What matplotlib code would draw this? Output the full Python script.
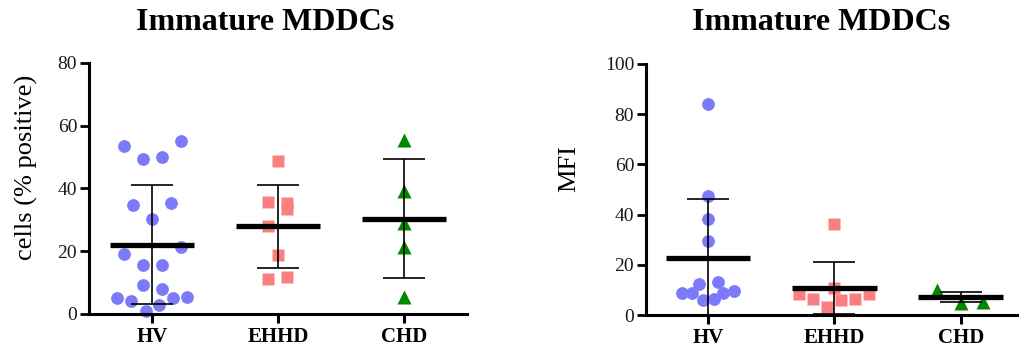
import matplotlib
matplotlib.use("Agg")
import matplotlib.pyplot as plt
import numpy as np

plt.rcParams['font.family'] = ['Liberation Serif', 'DejaVu Serif']

groups = ["HV", "EHHD", "CHD"]
title = "Immature MDDCs"

# --- left panel: cells (% positive)
hv_cells = [53.4, 49.4, 50.1, 55.2, 34.7, 35.4, 30.1, 19.0, 21.2, 15.5, 15.5,
            9.3, 8.0, 5.0, 4.1, 5.0, 5.3, 3.0, 0.8]
ehhd_cells = [48.6, 35.6, 35.2, 33.3, 27.9, 18.7, 11.0, 11.9]
chd_cells = [55.4, 39.2, 29.1, 21.4, 5.3]
cells_mean = [22.1, 27.9, 30.3]
cells_sd = [19.0, 13.1, 18.9]

# --- right panel: MFI
hv_mfi = [84.1, 47.4, 38.2, 29.5, 12.2, 13.1, 8.9, 8.6, 8.9, 9.6, 6.0, 6.5]
ehhd_mfi = [36.3, 10.8, 8.2, 6.3, 3.2, 6.0, 6.3, 8.2]
chd_mfi = [10.0, 4.9, 5.3]
mfi_mean = [22.8, 10.8, 7.2]
mfi_sd = [23.4, 10.4, 1.9]

# horizontal scatter offsets (category units), GraphPad-style spread
hv_cells_dx = [-0.225, -0.071, 0.077, 0.230, -0.148, 0.153, 0.0, -0.225, 0.230,
               -0.071, 0.077, -0.071, 0.077, -0.275, -0.165, 0.167, 0.278, 0.058, -0.050]
ehhd_cells_dx = [0.0, -0.077, 0.074, 0.074, -0.077, 0.0, -0.077, 0.074]
chd_cells_dx = [0.0, 0.0, 0.0, 0.0, 0.0]
hv_mfi_dx = [0.0, 0.0, 0.0, 0.0, -0.071, 0.077, -0.208, -0.124, 0.121, 0.208, -0.042, 0.047]
ehhd_mfi_dx = [0.0, 0.0, -0.277, -0.166, -0.055, 0.055, 0.166, 0.277]
chd_mfi_dx = [-0.187, 0.0, 0.176]

colors = ["#7b7bfa", "#fa7f7f", "#008800"]
markers = ["o", "s", "^"]
msizes = [9.2, 9.0, 9.6]

W, H = 1020, 356
fig = plt.figure(figsize=(W / 100, H / 100), dpi=100)

def px_axes(x0, x1, y0, y1):
    return fig.add_axes([x0 / W, (H - y0) / H, (x1 - x0) / W, (y0 - y1) / H])

axL = px_axes(89, 467, 314, 62.7)
axR = px_axes(646, 1019, 315, 64)

def draw(ax, data, dxs, means, sds, ylim, yticks, ylabel, xlim, lab_x, lab_y):
    for i, (vals, dx) in enumerate(zip(data, dxs)):
        xs = i + np.array(dx)
        ax.plot(xs, vals, linestyle="none", marker=markers[i], ms=msizes[i],
                mfc=colors[i], mec="none", clip_on=False, zorder=2)
    xc = np.arange(len(groups))
    ax.errorbar(xc, means, yerr=sds, fmt="none", ecolor="black", elinewidth=1.2,
                capsize=15, capthick=1.2, zorder=3)
    ax.hlines(means, xc - 0.335, xc + 0.335, colors="black", linewidth=3.8, zorder=4)
    ax.set_xlim(*xlim)
    ax.set_ylim(*ylim)
    ax.set_yticks(yticks)
    ax.set_xticks(xc)
    ax.set_xticklabels(groups, fontsize=15, fontweight="bold")
    for s in ["top", "right"]:
        ax.spines[s].set_visible(False)
    for s in ["left", "bottom"]:
        ax.spines[s].set_linewidth(2.2)
    ax.tick_params(axis="y", length=6.5, width=2.0, labelsize=14, pad=2,
                   labelcolor="#1a1a1a")
    ax.tick_params(axis="x", length=6.5, width=2.2, pad=3)
    ax.set_ylabel(ylabel, fontsize=19, va="center", ha="center")
    ax.yaxis.set_label_coords(lab_x, lab_y)

draw(axL, [hv_cells, ehhd_cells, chd_cells],
     [hv_cells_dx, ehhd_cells_dx, chd_cells_dx],
     cells_mean, cells_sd, (0, 80), [0, 20, 40, 60, 80],
     "cells (% positive)", (-0.5, 2.5), -0.165, 0.583)
draw(axR, [hv_mfi, ehhd_mfi, chd_mfi],
     [hv_mfi_dx, ehhd_mfi_dx, chd_mfi_dx],
     mfi_mean, mfi_sd, (0, 100), [0, 20, 40, 60, 80, 100],
     "MFI", (-0.49, 2.46), -0.206, 0.582)

fig.text(265 / W, (H - 30) / H, title, fontsize=23, fontweight="bold",
         ha="center", va="baseline")
fig.text(821 / W, (H - 30) / H, title, fontsize=23, fontweight="bold",
         ha="center", va="baseline")

fig.savefig("out.png", dpi=100)
